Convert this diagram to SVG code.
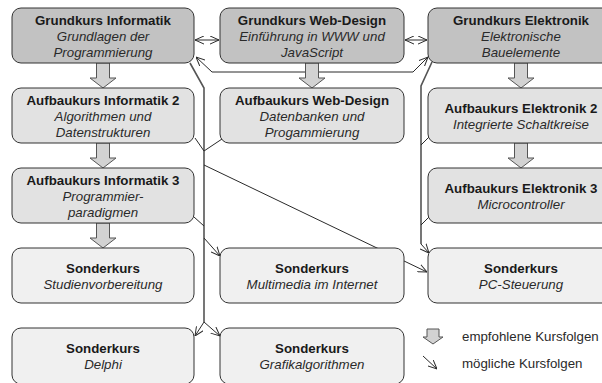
<svg xmlns="http://www.w3.org/2000/svg" width="602" height="383" viewBox="0 0 602 383">
  <style>
    .box { stroke: #333; stroke-width: 1; }
    .grund { fill: #c2c2c2; }
    .aufbau { fill: #e2e2e2; }
    .sonder { fill: #f0f0f0; }
    .title { font-family: "Liberation Sans", Arial, sans-serif; font-size: 13.3px; font-weight: bold; fill: #1a1a1a; text-anchor: middle; }
    .sub { font-family: "Liberation Sans", Arial, sans-serif; font-size: 13.3px; font-style: italic; fill: #2a2a2a; text-anchor: middle; }
    .legend { font-family: "Liberation Sans", Arial, sans-serif; font-size: 13.3px; fill: #2a2a2a; }
    .link { fill: none; stroke: #2a2a2a; stroke-width: 1; }
    .trunk { fill: none; stroke: #555; stroke-width: 1.6; }
    .block { fill: #d2d2d2; stroke: #555; stroke-width: 1; }
  </style>
  <defs>
    <marker id="open" viewBox="0 0 10 10" refX="10" refY="5" markerWidth="9" markerHeight="9" markerUnits="userSpaceOnUse" orient="auto-start-reverse">
      <path d="M0,0.5 L10,5 L0,9.5" fill="none" stroke="#2a2a2a" stroke-width="1.1"/>
    </marker>
  </defs>

  <rect width="602" height="383" fill="#ffffff"/>

  <!-- possible course sequences (thin connectors) -->
  <g id="connectors">
    <!-- between the three Grundkurse -->
    <path class="link" d="M195,40 L219,40" marker-start="url(#open)" marker-end="url(#open)"/>
    <path class="link" d="M405,40 L427,40" marker-start="url(#open)" marker-end="url(#open)"/>
    <path class="link" d="M196,57 L212,72 L413,72 L428,57" marker-start="url(#open)" marker-end="url(#open)"/>

    <!-- collecting line on the left -->
    <path class="trunk" d="M190,63 L204,88 L204,322"/>
    <path class="link" d="M195,138 L204,151"/>
    <path class="link" d="M222,139 L204,151"/>
    <path class="link" d="M194,217 L204,226"/>
    <path class="link" d="M204,165 L427,272" marker-end="url(#open)"/>
    <path class="link" d="M204,238 L220,256" marker-end="url(#open)"/>
    <path class="link" d="M204,322 L195,336" marker-end="url(#open)"/>
    <path class="link" d="M204,322 L220,336" marker-end="url(#open)"/>

    <!-- collecting line on the right -->
    <path class="trunk" d="M432,62 L421,86 L421,244"/>
    <path class="link" d="M421,244 L429,253" marker-end="url(#open)"/>
    <path class="link" d="M429,137 L421,145"/>
    <path class="link" d="M429,217 L421,225"/>
  </g>

  <!-- recommended course sequences (block arrows) -->
  <g id="recommended">
    <path class="block" d="M96.5,63 L109.5,63 L109.5,78 L116,78 L103,88 L90,78 L96.5,78 Z"/>
    <path class="block" d="M96.5,143 L109.5,143 L109.5,158 L116,158 L103,168 L90,158 L96.5,158 Z"/>
    <path class="block" d="M96.5,223 L109.5,223 L109.5,238 L116,238 L103,248 L90,238 L96.5,238 Z"/>
    <path class="block" d="M305.5,63 L318.5,63 L318.5,78 L325,78 L312,88 L299,78 L305.5,78 Z"/>
    <path class="block" d="M514.5,63 L527.5,63 L527.5,78 L534,78 L521,88 L508,78 L514.5,78 Z"/>
    <path class="block" d="M514.5,143 L527.5,143 L527.5,158 L534,158 L521,168 L508,158 L514.5,158 Z"/>
  </g>

  <!-- row 1 -->
  <g id="grund-informatik">
    <rect class="box grund" x="12" y="8" width="182" height="55" rx="9"/>
    <text class="title" x="103" y="25">Grundkurs Informatik</text>
    <text class="sub" x="103" y="41">Grundlagen der</text>
    <text class="sub" x="103" y="57">Programmierung</text>
  </g>
  <g id="grund-webdesign">
    <rect class="box grund" x="220" y="8" width="184" height="55" rx="9"/>
    <text class="title" x="312" y="25">Grundkurs Web-Design</text>
    <text class="sub" x="312" y="41">Einführung in WWW und</text>
    <text class="sub" x="312" y="57">JavaScript</text>
  </g>
  <g id="grund-elektronik">
    <rect class="box grund" x="428" y="8" width="186" height="55" rx="9"/>
    <text class="title" x="521" y="25">Grundkurs Elektronik</text>
    <text class="sub" x="521" y="41">Elektronische</text>
    <text class="sub" x="521" y="57">Bauelemente</text>
  </g>

  <!-- row 2 -->
  <g id="aufbau-informatik-2">
    <rect class="box aufbau" x="12" y="88" width="182" height="55" rx="9"/>
    <text class="title" x="103" y="105">Aufbaukurs Informatik 2</text>
    <text class="sub" x="103" y="121">Algorithmen und</text>
    <text class="sub" x="103" y="137">Datenstrukturen</text>
  </g>
  <g id="aufbau-webdesign">
    <rect class="box aufbau" x="220" y="88" width="184" height="55" rx="9"/>
    <text class="title" x="312" y="105">Aufbaukurs Web-Design</text>
    <text class="sub" x="312" y="121">Datenbanken und</text>
    <text class="sub" x="312" y="137">Progammierung</text>
  </g>
  <g id="aufbau-elektronik-2">
    <rect class="box aufbau" x="428" y="88" width="186" height="55" rx="9"/>
    <text class="title" x="521" y="113">Aufbaukurs Elektronik 2</text>
    <text class="sub" x="521" y="129">Integrierte Schaltkreise</text>
  </g>

  <!-- row 3 -->
  <g id="aufbau-informatik-3">
    <rect class="box aufbau" x="12" y="168" width="182" height="55" rx="9"/>
    <text class="title" x="103" y="185">Aufbaukurs Informatik 3</text>
    <text class="sub" x="103" y="201">Programmier-</text>
    <text class="sub" x="103" y="217">paradigmen</text>
  </g>
  <g id="aufbau-elektronik-3">
    <rect class="box aufbau" x="428" y="168" width="186" height="55" rx="9"/>
    <text class="title" x="521" y="193">Aufbaukurs Elektronik 3</text>
    <text class="sub" x="521" y="209">Microcontroller</text>
  </g>

  <!-- row 4 -->
  <g id="sonder-studienvorbereitung">
    <rect class="box sonder" x="12" y="248" width="182" height="55" rx="9"/>
    <text class="title" x="103" y="273">Sonderkurs</text>
    <text class="sub" x="103" y="289">Studienvorbereitung</text>
  </g>
  <g id="sonder-multimedia">
    <rect class="box sonder" x="220" y="248" width="184" height="55" rx="9"/>
    <text class="title" x="312" y="273">Sonderkurs</text>
    <text class="sub" x="312" y="289">Multimedia im Internet</text>
  </g>
  <g id="sonder-pc-steuerung">
    <rect class="box sonder" x="428" y="248" width="186" height="55" rx="9"/>
    <text class="title" x="521" y="273">Sonderkurs</text>
    <text class="sub" x="521" y="289">PC-Steuerung</text>
  </g>

  <!-- row 5 -->
  <g id="sonder-delphi">
    <rect class="box sonder" x="12" y="328" width="182" height="56" rx="9"/>
    <text class="title" x="103" y="353">Sonderkurs</text>
    <text class="sub" x="103" y="369">Delphi</text>
  </g>
  <g id="sonder-grafik">
    <rect class="box sonder" x="220" y="328" width="184" height="56" rx="9"/>
    <text class="title" x="312" y="353">Sonderkurs</text>
    <text class="sub" x="312" y="369">Grafikalgorithmen</text>
  </g>

  <!-- legend -->
  <g id="legend">
    <path class="block" d="M427,329 L439,329 L439,337 L443,337 L433,344 L423,337 L427,337 Z"/>
    <text class="legend" x="462" y="341">empfohlene Kursfolgen</text>
    <path class="link" d="M423,356 L437,369" marker-end="url(#open)"/>
    <text class="legend" x="462" y="368">mögliche Kursfolgen</text>
  </g>
</svg>
